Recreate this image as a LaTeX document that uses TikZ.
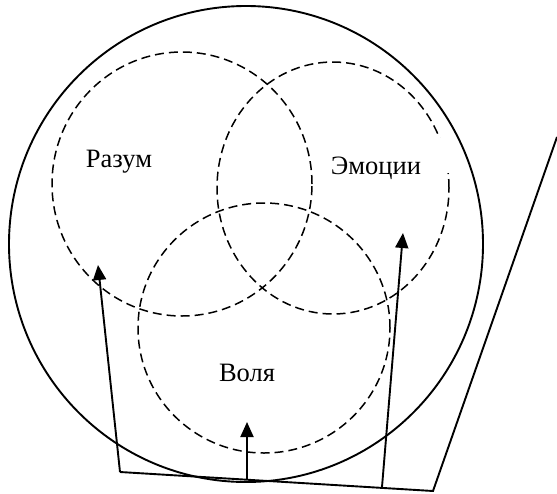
\documentclass[tikz,border=0pt]{standalone}
\usepackage{fontspec}
\setmainfont{Liberation Serif}
\usetikzlibrary{arrows.meta}

\begin{document}
\begin{tikzpicture}[x=1pt, y=-1pt,
    sphere/.style={draw, dash pattern=on 9pt off 5pt, line width=1.5pt},
    word/.style={font=\fontsize{26.5}{30}\selectfont},
    pointer/.style={line width=1.9pt, -{Triangle[length=15pt, width=13pt]}}]
    \useasboundingbox (0,0) rectangle (557,493);

    % Outer circle
    \draw[line width=1.9pt] (246,244) ellipse (237pt and 238pt);

    % The three spheres
    \draw[sphere] (182,184) ellipse (130pt and 132pt);
    \draw[sphere] (333,188) ellipse (116pt and 126pt);
    \draw[sphere] (264,328) ellipse (126pt and 125pt);

    % Labels (the frame of the right one hides a bit of its sphere)
    \fill[white] (340,138) rectangle (451,173);
    \node[word] (razum) at (119,162) {Разум};
    \node[word] (emocii) at (376,168) {Эмоции};
    \node[word] (volya) at (247,373) {Воля};

    % Base line
    \coordinate (left) at (120,472);
    \coordinate (corner) at (433,491);
    \coordinate (far) at (557,137);
    \draw[line width=1.9pt, line join=miter] (left) -- (corner) -- (far);

    % Arrows into the spheres
    \coordinate (mid) at (247,480);
    \coordinate (right) at (382,487);
    \coordinate (tipr) at (98,265);
    \coordinate (tipv) at (247,422);
    \coordinate (tipe) at (403,233);
    \draw[pointer] (left) -- (tipr);
    \draw[pointer] (mid) -- (tipv);
    \draw[pointer] (right) -- (tipe);
\end{tikzpicture}
\end{document}
